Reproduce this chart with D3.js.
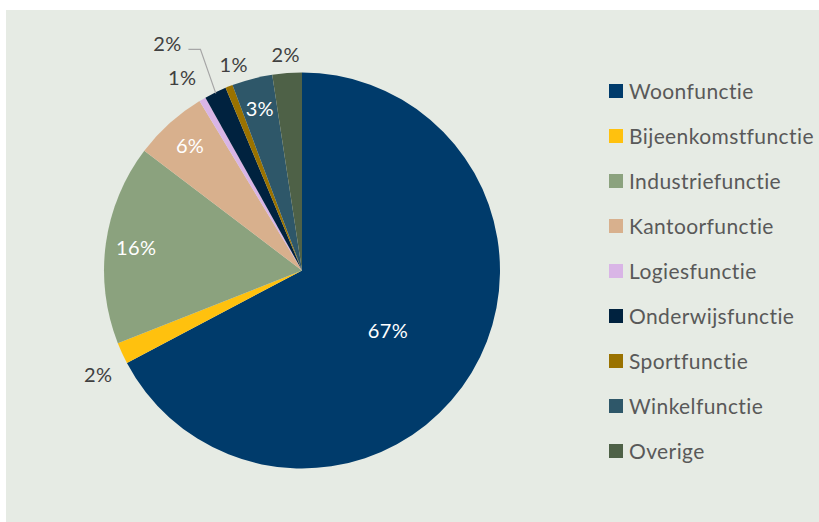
<!DOCTYPE html>
<html>
<head>
<meta charset="utf-8">
<script src="https://cdn.jsdelivr.net/npm/d3@7"></script>
<style>
  html, body { margin: 0; padding: 0; background: #ffffff; }
  svg { display: block; }
  text { font-variant-ligatures: none; font-feature-settings: "liga" 0; }
</style>
</head>
<body>
<svg id="chart" width="819" height="522"></svg>
<script>
// Gebruiksfuncties en hun aandeel (%)
const categories = [
  "Woonfunctie", "Bijeenkomstfunctie", "Industriefunctie", "Kantoorfunctie",
  "Logiesfunctie", "Onderwijsfunctie", "Sportfunctie", "Winkelfunctie", "Overige"
];
const shares = [67.2, 1.75, 16.3, 6.0, 0.55, 1.8, 0.6, 3.3, 2.4];
const colors = [
  "#003B6B", "#FFC10E", "#8BA27E", "#D8B08D", "#D9B5E6",
  "#00223F", "#9A7200", "#2E5769", "#4E6147"
];

const W = 819, H = 522;
const cx = 302, cy = 270.5, R = 198;
const FONT = "Lato, 'Open Sans', sans-serif";

const svg = d3.select("#chart");

// achtergrondvlak
svg.append("rect")
  .attr("x", 6).attr("y", 10)
  .attr("width", W - 6).attr("height", H - 10)
  .attr("fill", "#E6EBE4");

const pie = d3.pie().sort(null).value(d => d.v);
const data = categories.map((c, i) => ({ c, v: shares[i], color: colors[i] }));
const arcs = pie(data);
const total = d3.sum(shares);
const pct = d => d3.format(".0f")(d.data.v / total * 100) + "%";

const arc = d3.arc().innerRadius(0).outerRadius(R);
const g = svg.append("g").attr("transform", `translate(${cx},${cy})`);

g.selectAll("path.slice")
  .data(arcs)
  .join("path")
  .attr("class", "slice")
  .attr("d", arc)
  .attr("fill", d => d.data.color);

// labelplaatsing: binnen de taart voor grote sectoren, erbuiten voor kleine
const polar = (a, r) => [r * Math.sin(a), -r * Math.cos(a)];
const deg = Math.PI / 180;
const outsideTweak = {
  "Bijeenkomstfunctie": { dr: 31, da: -2.4 },
  "Logiesfunctie": { dr: 29, da: -1.7 },
  "Onderwijsfunctie": { dr: 66, da: -4.7 },
  "Sportfunctie": { dr: 19, da: 3.3 },
  "Overige": { dr: 18, da: 0 }
};

arcs.forEach((d, i) => {
  const mid = (d.startAngle + d.endAngle) / 2;
  let x, y, fill;
  const share = d.data.v / total;
  if (share >= 0.03) {
    const f = i === 0 ? 0.53 : 0.845;
    [x, y] = polar(mid + (i === 0 ? 4 * deg : 0), R * f);
    fill = "#FFFFFF";
  } else {
    const t = outsideTweak[d.data.c] || { dr: 22, da: 0 };
    [x, y] = polar(mid + t.da * deg, R + t.dr);
    fill = "#404040";
  }
  g.append("text")
    .attr("x", x).attr("y", y)
    .attr("dy", "0.36em")
    .attr("text-anchor", "middle")
    .attr("font-family", FONT)
    .attr("font-size", 20)
    .attr("letter-spacing", 0.4)
    .attr("fill", fill)
    .text(pct(d));

  if (d.data.c === "Onderwijsfunctie") {
    // verbindingslijn naar het smalle segment
    const [ex, ey] = polar(mid, R - 1);
    const lx = x + 21, ly = y + 6;
    g.append("polyline")
      .attr("points", `${lx},${ly} ${lx + 12},${ly} ${ex},${ey}`)
      .attr("fill", "none")
      .attr("stroke", "#A6A6A6")
      .attr("stroke-width", 1.2);
  }
});

// legenda
const legend = svg.append("g").attr("transform", "translate(609,91)");
const rows = legend.selectAll("g")
  .data(data)
  .join("g")
  .attr("transform", (d, i) => `translate(0,${i * 45})`);
rows.append("rect")
  .attr("x", 0).attr("y", -7)
  .attr("width", 14).attr("height", 14)
  .attr("fill", d => d.color);
rows.append("text")
  .attr("x", 20).attr("y", 0)
  .attr("dy", "0.36em")
  .attr("font-family", FONT)
  .attr("font-size", 21)
  .attr("letter-spacing", 0.4)
  .attr("fill", "#595959")
  .text(d => d.c);
</script>
</body>
</html>
